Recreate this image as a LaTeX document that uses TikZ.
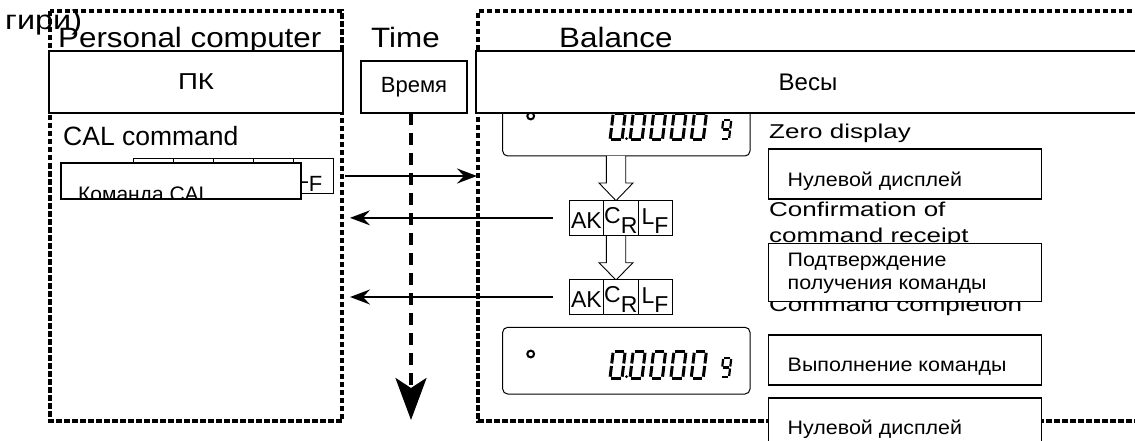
\documentclass[tikz,border=0pt]{standalone}
\usepackage{fontspec}
\setmainfont{Liberation Sans}
\newfontfamily\headfont{Liberation Sans}[FakeStretch=1.12]
\newfontfamily\widefont{Liberation Sans}[FakeStretch=1.2]
\newfontfamily\notefont{Liberation Sans}[FakeStretch=1.3]
\newfontfamily\rufont{Liberation Sans}[FakeStretch=1.1]
\usetikzlibrary{arrows.meta, positioning, calc}
\tikzset{
  % frames, boxes and arrows
  dashframe/.style={draw, line width=3.2pt, dash pattern=on 5.5pt off 2.5pt},
  labelbox/.style={rectangle, draw, line width=1.3pt, fill=white, inner sep=0pt, outer sep=0pt},
  cell/.style={rectangle, draw, line width=0.8pt, fill=white, minimum width=34.3pt, minimum height=34.3pt, inner sep=0pt, outer sep=0pt, font=\fontsize{23}{23}\selectfont},
  calcell/.style={cell, minimum width=40pt, minimum height=35pt, font=\fontsize{22}{22}\selectfont},
  msgarrow/.style={line width=2pt, -{Stealth[length=20pt, width=15pt, inset=7pt]}},
  timeline/.style={line width=3.5pt, dash pattern=on 12pt off 8pt, -{Stealth[length=42pt, width=31pt, inset=10pt]}},
  hollow/.style={draw, line width=0.9pt, fill=white},
  % display
  lcd/.style={draw, line width=1pt, rounded corners=5pt},
  lcdseg/.style={line width=3pt, shorten <=1.3pt, shorten >=1.3pt},
  lcdsmall/.style={line width=2.2pt, shorten <=1pt, shorten >=1pt},
  % texts
  head/.style={font=\headfont\fontsize{28}{30}\selectfont, anchor=base west, inner sep=0pt},
  note/.style={font=\notefont\fontsize{20}{20}\selectfont, anchor=base west, inner sep=0pt},
  ru/.style={font=\rufont\fontsize{19.5}{19.5}\selectfont, anchor=base west, inner sep=0pt},
}
% seven segment zero, bottom left corner at (#1,#2)
\newcommand\lcdzero[2]{%
  \foreach \ax/\ay/\bx/\by in {3.2/26.5/15.2/26.5, 3.2/26.5/1.6/13.25, 15.2/26.5/13.6/13.25,
                               1.6/13.25/0/0, 13.6/13.25/12/0, 0/0/12/0}
    {\draw[lcdseg] (#1+\ax,#2-\ay) -- (#1+\bx,#2-\by);}
}
% seven segment g, bottom left corner at (#1,#2)
\newcommand\lcdgee[2]{%
  \foreach \ax/\ay/\bx/\by in {2.3/19/10.3/19, 2.3/19/1.15/9.5, 10.3/19/9.15/9.5,
                               1.15/9.5/9.15/9.5, 9.15/9.5/8/0, 0/0/8/0}
    {\draw[lcdsmall] (#1+\ax,#2-\ay) -- (#1+\bx,#2-\by);}
}
% balance display, bottom edge at y=#1
\newcommand\lcdpanel[1]{%
  \draw[lcd] (502.7,#1-66.7) rectangle (750,#1);
  \draw[line width=2pt] (530.7,#1-40) circle (3.4);
  \lcdzero{610}{#1-16}
  \fill (626.5,#1-17.4) circle (1.5);
  \foreach \i in {0,...,3}
    {\lcdzero{630+20.4*\i}{#1-16}}
  \lcdgee{721}{#1-17}
}

\begin{document}
\begin{tikzpicture}[x=1pt, y=-1pt]
  \useasboundingbox (0,0) rectangle (1135,441);
  % Frames
  \draw[dashframe] (50,11) rectangle (342,421);
  \draw[dashframe] (1140,11) -- (478,11) -- (478,421) -- (1140,421);
  % Headings
  \node[font=\widefont\fontsize{27}{27}\selectfont, anchor=base west, inner sep=0pt] (weights) at (5,30) {гири)};
  \node[head] (pchead) at (58,48) {Personal computer};
  \node[head] (timehead) at (371,48) {Time};
  \node[head] (balhead) at (559,48) {Balance};
  % Time axis
  \node[labelbox, minimum width=106pt, minimum height=52pt, font=\fontsize{22}{22}\selectfont] (time) at (414,87) {Время};
  \coordinate (tend) at (411,420);
  \draw[timeline] (time.south -| tend) -- (tend);
  % Computer side
  \node[font=\fontsize{26.5}{26.5}\selectfont, anchor=base west, inner sep=0pt] (caltxt) at (63,146) {CAL command};
  \node[calcell] (cal1) at (153,175.5) {};
  \node[calcell, right=0pt of cal1] (cal2) {};
  \node[calcell, right=0pt of cal2] (cal3) {};
  \node[calcell, right=0pt of cal3] (cal4) {};
  \node[calcell, right=0pt of cal4, text height=15pt, text depth=0pt] (cal5) {\hspace{-7pt}L\raisebox{-8pt}{F}};
  \node[labelbox, minimum width=240pt, minimum height=36pt] (calbox) at (181,181) {};
  \begin{scope}
    \clip (calbox.south west) rectangle (calbox.north east);
    \node[font=\fontsize{21}{21}\selectfont, anchor=base west, inner sep=0pt] at ([xshift=17pt, yshift=-38pt]calbox.north west) {Команда CAL};
  \end{scope}
  % Balance side: displays and replies
  \lcdpanel{394}
  \begin{scope}
    \clip (480,114.9) rectangle (760,200);
    \lcdpanel{156}
  \end{scope}
  \draw[hollow] (606.3,156) -- (606.3,183) -- (599,183) -- (616,200.7) -- (633,183) -- (625.7,183) -- (625.7,156);
  \draw[hollow] (606.3,235) -- (606.3,262.7) -- (599,262.7) -- (616,280) -- (633,262.7) -- (625.7,262.7) -- (625.7,235);
  \node[cell, text height=20.9pt, text depth=0pt] (ack1a) at (586.45,217.85) {AK};
  \node[cell, right=0pt of ack1a, text height=10.3pt, text depth=0pt] (ack1b) {C\raisebox{-10pt}{R}};
  \node[cell, right=0pt of ack1b, text height=12.3pt, text depth=0pt] (ack1c) {L\raisebox{-9pt}{F}};
  \node[cell, text height=20.9pt, text depth=0pt] (ack2a) at (586.45,297) {AK};
  \node[cell, right=0pt of ack2a, text height=10.3pt, text depth=0pt] (ack2b) {C\raisebox{-10pt}{R}};
  \node[cell, right=0pt of ack2b, text height=12.3pt, text depth=0pt] (ack2c) {L\raisebox{-9pt}{F}};
  \node[labelbox, minimum width=664pt, minimum height=62pt, font=\fontsize{24}{24}\selectfont] (bal) at (808,82) {Весы};
  \node[labelbox, minimum width=294pt, minimum height=62pt, font=\widefont\fontsize{23}{23}\selectfont] (pc) at (196,82) {ПК};
  % Notes
  \node[note] (zerotxt) at (769,138.3) {Zero display};
  \node[note] (conftxt) at (769,216.7) {Confirmation of};
  \node[note] (conftxtb) at (769,242) {command receipt};
  \node[note] (donetxt) at (769,311) {Command completion};
  \node[labelbox, minimum width=273pt, minimum height=50pt] (zerobox) at (905,174) {};
  \node[ru] at ([xshift=19pt, yshift=-37pt]zerobox.north west) {Нулевой дисплей};
  \node[labelbox, minimum width=273pt, minimum height=58.5pt] (confbox) at (905,272.5) {};
  \node[ru] at ([xshift=19pt, yshift=-23.4pt]confbox.north west) {Подтверждение};
  \node[ru] at ([xshift=19pt, yshift=-46.7pt]confbox.north west) {получения команды};
  \node[labelbox, minimum width=273pt, minimum height=50pt] (donebox) at (905,360) {};
  \node[ru] at ([xshift=19pt, yshift=-36pt]donebox.north west) {Выполнение команды};
  \node[labelbox, minimum width=273pt, minimum height=50pt] (zerobox2) at (905,423) {};
  \node[ru] at ([xshift=19pt, yshift=-36pt]zerobox2.north west) {Нулевой дисплей};
  % Messages
  \coordinate (pcout) at (345,176);
  \coordinate (balin) at (477,176);
  \coordinate (pcin1) at (350,217.85);
  \coordinate (pcin2) at (350,297);
  \draw[msgarrow] (pcout) -- (balin);
  \draw[msgarrow] ([xshift=-16.5pt]ack1a.west) -- (pcin1);
  \draw[msgarrow] ([xshift=-16.5pt]ack2a.west) -- (pcin2);
\end{tikzpicture}
\end{document}
